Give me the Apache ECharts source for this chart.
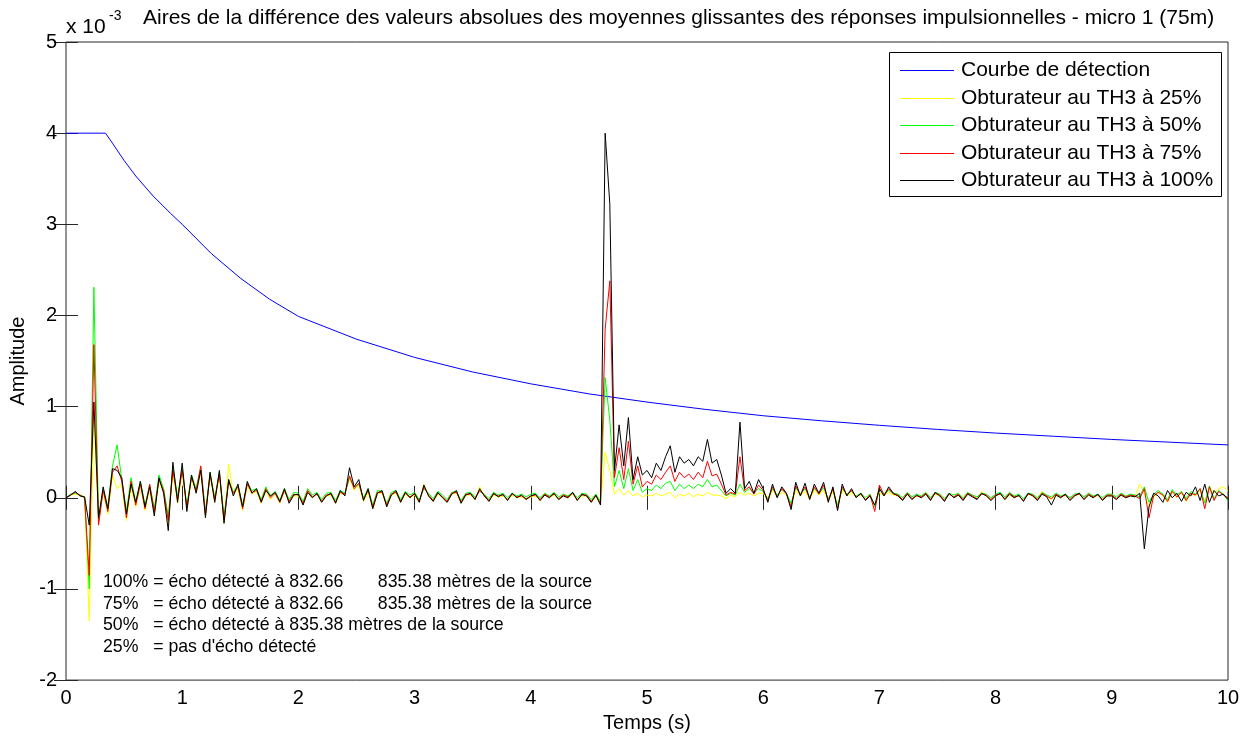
<!DOCTYPE html>
<html>
<head>
<meta charset="utf-8">
<script src="https://cdn.jsdelivr.net/npm/echarts@6/dist/echarts.min.js"></script>
<style>
  html, body { margin: 0; padding: 0; background: #fff; }
  #chart { width: 1246px; height: 738px; }
</style>
</head>
<body>
<div id="chart"></div>
<script>
// values are in units of 1e-3 (see "x 10^-3" on the y axis)
const dt = 0.04; // sampling step of the four shutter curves, seconds

const detectTimes = [0, 0.34, 0.4, 0.5, 0.6, 0.75, 0.9, 1, 1.25, 1.5, 1.75, 2, 2.5, 3, 3.5, 4, 4.5, 5, 5.5, 6, 6.5, 7, 7.5, 8, 8.5, 9, 9.5, 10];
const detectValues = [4, 4, 3.89, 3.70, 3.53, 3.31, 3.12, 3.00, 2.68, 2.41, 2.18, 1.99, 1.74, 1.54, 1.38, 1.25, 1.14, 1.05, 0.97, 0.90, 0.845, 0.795, 0.75, 0.71, 0.675, 0.64, 0.61, 0.58];

const th3_25 = [
  0.00, 0.03, 0.04, 0.02, 0.00, -1.35, 0.90, -0.28, 0.06, -0.18, 0.25, 0.10, 0.15, -0.25, 0.12, -0.10, 0.14, -0.14, 0.10, -0.18, 0.18, 0.06, -0.28, 0.28, -0.06,
  0.28, -0.12, 0.20, 0.06, 0.30, -0.20, 0.24, -0.05, 0.24, -0.28, 0.37, 0.03, 0.10, -0.14, 0.13, 0.04, 0.07, -0.06, 0.08, -0.02, 0.04, -0.06, 0.07, -0.05, 0.02,
  0.02, -0.07, 0.06, 0.00, 0.04, -0.05, 0.02, 0.03, -0.06, 0.05, 0.03, 0.22, 0.08, 0.14, -0.04, 0.06, -0.12, 0.05, 0.05, -0.09, 0.03, 0.05, -0.05, 0.04, 0.00,
  0.03, -0.05, 0.15, 0.02, -0.04, 0.04, 0.00, -0.05, 0.04, 0.05, -0.06, 0.03, 0.03, -0.02, 0.12, 0.02, -0.04, 0.03, 0.01, 0.02, -0.03, 0.03, 0.00, 0.01, -0.02,
  0.01, 0.02, -0.03, 0.03, 0.00, 0.03, -0.02, 0.02, 0.00, 0.04, -0.03, 0.02, 0.02, -0.05, 0.01, -0.07, 0.50, 0.30, 0.04, 0.10, 0.03, 0.08, 0.02, 0.05, 0.01,
  0.03, 0.02, 0.05, 0.02, 0.04, 0.06, 0.00, 0.04, 0.02, 0.05, 0.01, 0.04, 0.02, 0.06, 0.03, 0.03, 0.02, -0.01, 0.03, 0.01, 0.06, 0.03, 0.05, 0.02, 0.05,
  0.05, -0.03, 0.08, 0.01, 0.06, 0.03, -0.08, 0.08, 0.02, 0.07, -0.02, 0.08, 0.03, 0.08, -0.03, 0.07, -0.10, 0.08, 0.02, 0.05, 0.01, 0.03, -0.02, 0.02, -0.08,
  0.06, 0.02, 0.06, 0.03, 0.02, -0.02, 0.04, -0.01, 0.02, 0.00, 0.04, -0.02, 0.04, 0.02, -0.03, 0.04, 0.01, 0.03, -0.02, 0.05, 0.01, -0.01, 0.07, 0.02, -0.02,
  0.02, 0.04, -0.02, 0.03, 0.00, 0.02, -0.03, 0.04, 0.02, -0.02, 0.07, 0.01, -0.02, 0.03, 0.00, 0.03, -0.02, 0.02, 0.04, -0.02, 0.03, 0.00, 0.03, -0.03, 0.02,
  0.02, -0.02, 0.03, 0.00, 0.02, 0.01, 0.15, 0.05, -0.10, 0.00, 0.06, 0.02, -0.05, 0.07, 0.00, 0.06, -0.04, 0.05, 0.02, 0.09, -0.05, 0.12, 0.05, 0.10, 0.12,
  0.08
];

const th3_50 = [
  0.00, 0.04, 0.05, 0.03, 0.01, -1.00, 2.31, -0.25, 0.10, -0.10, 0.35, 0.58, 0.20, -0.15, 0.22, -0.05, 0.18, -0.08, 0.14, -0.12, 0.25, 0.10, -0.20, 0.33, 0.02,
  0.32, -0.08, 0.25, 0.10, 0.33, -0.15, 0.28, 0.00, 0.28, -0.20, 0.20, 0.06, 0.14, -0.08, 0.16, 0.08, 0.10, -0.02, 0.12, 0.02, 0.07, -0.03, 0.10, -0.02, 0.06,
  0.05, -0.04, 0.10, 0.03, 0.06, -0.02, 0.05, 0.06, -0.03, 0.08, 0.05, 0.22, 0.12, 0.15, 0.00, 0.10, -0.08, 0.08, 0.07, -0.06, 0.06, 0.08, -0.02, 0.07, 0.03,
  0.06, -0.02, 0.10, 0.05, -0.01, 0.07, 0.03, -0.02, 0.06, 0.07, -0.03, 0.05, 0.06, 0.01, 0.07, 0.04, -0.01, 0.06, 0.03, 0.05, 0.00, 0.05, 0.02, 0.04, 0.01,
  0.04, 0.05, 0.00, 0.05, 0.02, 0.06, 0.01, 0.04, 0.02, 0.06, 0.00, 0.05, 0.04, -0.02, 0.04, -0.04, 1.32, 0.85, 0.12, 0.30, 0.10, 0.32, 0.08, 0.20, 0.06,
  0.10, 0.08, 0.14, 0.10, 0.16, 0.18, 0.08, 0.15, 0.10, 0.14, 0.10, 0.15, 0.12, 0.20, 0.12, 0.14, 0.08, 0.02, 0.05, 0.03, 0.15, 0.06, 0.10, 0.05, 0.10,
  0.07, -0.01, 0.10, 0.03, 0.09, 0.05, -0.06, 0.11, 0.04, 0.10, 0.01, 0.10, 0.05, 0.11, -0.01, 0.09, -0.08, 0.10, 0.04, 0.07, 0.02, 0.05, 0.00, 0.04, -0.10,
  0.10, 0.04, 0.08, 0.05, 0.04, 0.00, 0.06, 0.01, 0.04, 0.02, 0.06, 0.00, 0.06, 0.04, -0.01, 0.05, 0.03, 0.05, 0.00, 0.06, 0.03, 0.01, 0.05, 0.04, 0.00,
  0.04, 0.06, 0.01, 0.06, 0.02, 0.04, -0.01, 0.05, 0.04, 0.00, 0.06, 0.03, 0.01, 0.05, 0.02, 0.04, 0.00, 0.04, 0.05, 0.01, 0.05, 0.02, 0.04, 0.00, 0.04,
  0.04, 0.01, 0.05, 0.02, 0.04, 0.03, 0.01, 0.12, -0.05, 0.04, 0.08, 0.04, -0.02, 0.09, 0.03, 0.07, -0.01, 0.07, 0.04, 0.10, -0.06, 0.13, -0.01, 0.08, 0.04,
  -0.03
];

const th3_75 = [
  0.00, 0.03, 0.06, 0.03, 0.00, -0.85, 1.68, -0.30, 0.08, -0.15, 0.28, 0.35, 0.18, -0.22, 0.18, -0.08, 0.15, -0.12, 0.15, -0.15, 0.20, 0.08, -0.25, 0.30, -0.02,
  0.30, -0.10, 0.22, 0.08, 0.35, -0.18, 0.25, -0.02, 0.26, -0.24, 0.18, 0.05, 0.12, -0.12, 0.15, 0.06, 0.08, -0.04, 0.10, 0.00, 0.05, -0.05, 0.08, -0.04, 0.04,
  0.03, -0.06, 0.08, 0.01, 0.04, -0.04, 0.03, 0.04, -0.05, 0.06, 0.04, 0.24, 0.10, 0.16, -0.02, 0.08, -0.10, 0.06, 0.06, -0.08, 0.04, 0.06, -0.04, 0.05, 0.01,
  0.04, -0.04, 0.12, 0.03, -0.03, 0.05, 0.01, -0.04, 0.05, 0.06, -0.05, 0.04, 0.04, -0.01, 0.08, 0.03, -0.03, 0.04, 0.02, 0.03, -0.02, 0.04, 0.01, 0.02, -0.01,
  0.02, 0.03, -0.02, 0.04, 0.01, 0.04, -0.01, 0.03, 0.01, 0.05, -0.02, 0.03, 0.03, -0.04, 0.02, -0.06, 1.85, 2.38, 0.22, 0.55, 0.20, 0.62, 0.15, 0.35, 0.12,
  0.18, 0.15, 0.25, 0.20, 0.28, 0.35, 0.18, 0.28, 0.22, 0.26, 0.20, 0.28, 0.22, 0.40, 0.24, 0.26, 0.15, 0.03, 0.06, 0.04, 0.45, 0.08, 0.12, 0.04, 0.14,
  0.08, -0.03, 0.12, 0.01, 0.10, 0.04, -0.10, 0.13, 0.03, 0.12, -0.01, 0.12, 0.04, 0.14, -0.03, 0.10, -0.12, 0.12, 0.03, 0.08, 0.01, 0.04, -0.02, 0.03, -0.15,
  0.14, 0.03, 0.10, 0.04, 0.03, -0.02, 0.05, -0.01, 0.02, 0.01, 0.05, -0.02, 0.05, 0.03, -0.03, 0.04, 0.01, 0.04, -0.02, 0.05, 0.02, -0.01, 0.04, 0.03, -0.02,
  0.03, 0.04, -0.01, 0.05, 0.01, 0.02, -0.03, 0.04, 0.03, -0.02, 0.05, 0.02, -0.01, 0.04, 0.01, 0.03, -0.02, 0.03, 0.04, -0.01, 0.04, 0.01, 0.03, -0.02, 0.03,
  0.03, -0.01, 0.04, 0.01, 0.03, 0.02, -0.01, 0.10, -0.22, 0.02, 0.06, 0.03, -0.04, 0.07, 0.01, 0.06, -0.03, 0.05, 0.03, 0.10, -0.12, 0.12, -0.03, 0.07, 0.03,
  0.00
];

const th3_100 = [
  0.00, 0.03, 0.07, 0.02, 0.01, -0.30, 1.05, -0.22, 0.12, -0.12, 0.32, 0.30, 0.22, -0.18, 0.15, -0.05, 0.18, -0.10, 0.12, -0.20, 0.22, 0.05, -0.36, 0.39, -0.05,
  0.38, -0.15, 0.25, 0.05, 0.30, -0.22, 0.28, -0.05, 0.30, -0.28, 0.20, 0.02, 0.15, -0.10, 0.18, 0.05, 0.10, -0.05, 0.08, 0.02, 0.06, -0.04, 0.10, -0.06, 0.03,
  0.04, -0.08, 0.06, 0.00, 0.05, -0.05, 0.02, 0.05, -0.06, 0.08, 0.02, 0.33, 0.12, 0.20, -0.03, 0.10, -0.12, 0.05, 0.08, -0.10, 0.03, 0.08, -0.05, 0.06, 0.00,
  0.05, -0.05, 0.14, 0.02, -0.04, 0.06, 0.00, -0.05, 0.04, 0.08, -0.06, 0.03, 0.05, -0.02, 0.10, 0.02, -0.04, 0.05, 0.01, 0.04, -0.03, 0.05, 0.00, 0.03, -0.02,
  0.02, 0.04, -0.03, 0.03, 0.00, 0.05, -0.02, 0.02, 0.00, 0.06, -0.03, 0.04, 0.02, -0.05, 0.03, -0.08, 4.00, 3.22, 0.30, 0.80, 0.35, 0.88, 0.20, 0.45, 0.25,
  0.30, 0.22, 0.38, 0.30, 0.45, 0.57, 0.28, 0.45, 0.38, 0.42, 0.35, 0.45, 0.40, 0.64, 0.38, 0.42, 0.25, 0.05, 0.10, 0.05, 0.83, 0.10, 0.18, 0.05, 0.20,
  0.10, -0.05, 0.15, 0.00, 0.12, 0.05, -0.13, 0.17, 0.02, 0.16, -0.02, 0.15, 0.05, 0.17, -0.05, 0.12, -0.14, 0.15, 0.02, 0.10, 0.00, 0.05, -0.03, 0.02, -0.08,
  0.10, 0.02, 0.12, 0.05, 0.02, -0.03, 0.04, -0.02, 0.03, 0.00, 0.04, -0.03, 0.06, 0.02, -0.04, 0.05, 0.00, 0.03, -0.03, 0.04, 0.01, -0.02, 0.05, 0.02, -0.03,
  0.02, 0.05, -0.02, 0.04, 0.00, 0.03, -0.04, 0.05, 0.02, -0.03, 0.04, 0.01, -0.08, 0.03, 0.00, 0.04, -0.03, 0.02, 0.05, -0.02, 0.03, 0.00, 0.04, -0.03, 0.02,
  0.02, -0.02, 0.03, 0.00, 0.02, 0.01, 0.05, -0.56, -0.10, 0.05, 0.02, -0.05, 0.08, 0.00, 0.05, -0.04, 0.06, 0.02, 0.12, -0.03, 0.15, -0.05, 0.08, 0.02, 0.04,
  -0.02
];

const seriesNames = ['Courbe de détection', 'Obturateur au TH3 à 25%', 'Obturateur au TH3 à 50%', 'Obturateur au TH3 à 75%', 'Obturateur au TH3 à 100%'];
const seriesColors = ['#0000ff', '#ffff00', '#00ff00', '#ff0000', '#000000'];

const notes = [
  '100% = écho détecté à 832.66       835.38 mètres de la source',
  '75%   = écho détecté à 832.66       835.38 mètres de la source',
  '50%   = écho détecté à 835.38 mètres de la source',
  '25%   = pas d\'écho détecté'
];

const FONT = "'Liberation Sans', Arial, sans-serif";

function onGrid(values) {
  return values.map((v, i) => [+(i * dt).toFixed(2), v]);
}

const chart = echarts.init(document.getElementById('chart'));

const axisCommon = {
  type: 'value',
  splitLine: { show: false },
  axisLine: { show: false },
  axisTick: { show: true, inside: true, length: 12, lineStyle: { color: '#262626', width: 1 } },
};

const lineSeries = [
  onGrid(th3_25), onGrid(th3_50), onGrid(th3_75), onGrid(th3_100)
];

// legend box drawn as graphics (MATLAB style: framed box, short line + label)
const legendRowY = seriesNames.map((n, i) => Math.round(70 + i * 27.5) + 0.5);
const legendBox = [
  { type: 'rect', z: 100, shape: { x: 889.5, y: 52.5, width: 332, height: 144 }, style: { fill: '#fff', stroke: '#000', lineWidth: 1 } }
].concat(seriesNames.map((n, i) => ({
  type: 'line', z: 101,
  shape: { x1: 900, y1: legendRowY[i], x2: 954, y2: legendRowY[i] },
  style: { stroke: seriesColors[i], lineWidth: 1 }
}))).concat(seriesNames.map((n, i) => ({
  type: 'text', z: 101, x: 961, y: legendRowY[i],
  style: { text: n, font: '21px ' + FONT, fill: '#000', verticalAlign: 'middle' }
})));

chart.setOption({
  animation: false,
  color: seriesColors,
  textStyle: { fontFamily: FONT },
  grid: {
    left: 66, right: 18, top: 42, bottom: 56,
    show: true, borderColor: '#262626', borderWidth: 1, backgroundColor: '#fff'
  },
  xAxis: [
    Object.assign({}, axisCommon, {
      min: 0, max: 10, interval: 1, position: 'bottom',
      axisLabel: { fontSize: 20, color: '#000', margin: 8, fontFamily: FONT },
      name: 'Temps (s)', nameLocation: 'middle', nameGap: 32,
      nameTextStyle: { fontSize: 20, color: '#000', fontFamily: FONT }
    }),
    Object.assign({}, axisCommon, {
      min: 0, max: 10, interval: 1, position: 'top',
      axisLabel: { show: false }
    })
  ],
  yAxis: [
    Object.assign({}, axisCommon, {
      min: -2, max: 5, interval: 1, position: 'left',
      axisLabel: { fontSize: 20, color: '#000', margin: 9, fontFamily: FONT },
      name: 'Amplitude', nameLocation: 'middle', nameGap: 36,
      nameTextStyle: { fontSize: 20, color: '#000', fontFamily: FONT }
    }),
    Object.assign({}, axisCommon, {
      min: -2, max: 5, interval: 1, position: 'right',
      axisLabel: { show: false }
    })
  ],
  graphic: [
    { type: 'text', left: 143, top: 8, style: { text: 'Aires de la différence des valeurs absolues des moyennes glissantes des réponses impulsionnelles - micro 1 (75m)', font: '21px ' + FONT, fill: '#000' } },
    { type: 'text', left: 66, top: 17, style: { text: 'x 10', font: '21px ' + FONT, fill: '#000' } },
    { type: 'text', left: 109, top: 9, style: { text: '-3', font: '14px ' + FONT, fill: '#000' } }
  ].concat(notes.map((s, i) => ({
    type: 'text', left: 103, top: 573 + i * 21.7,
    style: { text: s, font: '17.7px ' + FONT, fill: '#000' }
  }))).concat(legendBox),
  series: [
    {
      name: seriesNames[0], type: 'line', symbol: 'none',
      data: detectTimes.map((t, i) => [t, detectValues[i]]),
      lineStyle: { width: 1 }
    }
  ].concat(lineSeries.map((d, k) => ({
    name: seriesNames[k + 1], type: 'line', symbol: 'none',
    data: d,
    lineStyle: { width: 1 }
  })))
});
</script>
</body>
</html>
